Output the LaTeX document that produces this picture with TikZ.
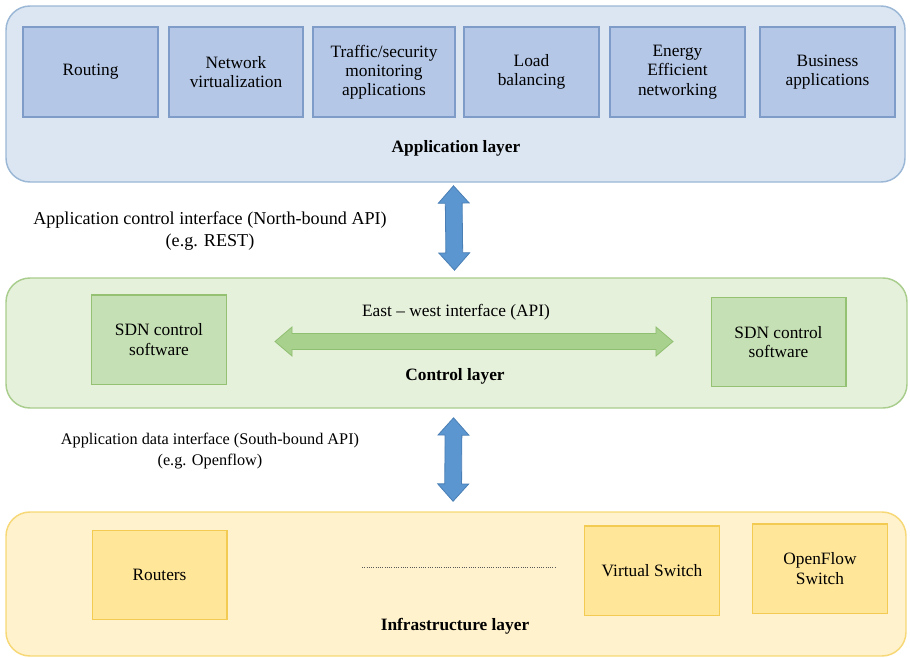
\documentclass[tikz,border=0pt]{standalone}
\usepackage{fontspec}
\setmainfont{Liberation Serif}
\usetikzlibrary{calc}

% colours of the three layers
\definecolor{appbg}{HTML}{DCE6F3}
\definecolor{appline}{HTML}{9BB7D6}
\definecolor{appfill}{HTML}{B4C7E7}
\definecolor{appbord}{HTML}{7F9CC8}
\definecolor{ctlbg}{HTML}{E6F1DC}
\definecolor{ctlline}{HTML}{A9CD8C}
\definecolor{ctlfill}{HTML}{C5E0B4}
\definecolor{ctlbord}{HTML}{94C272}
\definecolor{infbg}{HTML}{FFF2CC}
\definecolor{infline}{HTML}{F7D877}
\definecolor{inffill}{HTML}{FFE699}
\definecolor{infbord}{HTML}{F4CB52}
\definecolor{apiblue}{HTML}{5B96D0}
\definecolor{apibord}{HTML}{4A7FB5}
\definecolor{ewfill}{HTML}{A9D18E}
\definecolor{ewbord}{HTML}{8FBF70}

% thick outlined double-headed arrow between two points:
% #1,#2 tips, #3 shaft half width, #4 head half width, #5 head length, #6 style
\newcommand\fatarrow[6]{%
  \path ($(#1)!#5!(#2)$) coordinate (#1-hb) ($(#2)!#5!(#1)$) coordinate (#2-hb);
  \filldraw[#6] (#1) -- ($(#1-hb)!#4!90:(#2)$) -- ($(#1-hb)!#3!90:(#2)$)
    -- ($(#2-hb)!#3!-90:(#1)$) -- ($(#2-hb)!#4!-90:(#1)$) -- (#2)
    -- ($(#2-hb)!#4!90:(#1)$) -- ($(#2-hb)!#3!90:(#1)$)
    -- ($(#1-hb)!#3!-90:(#2)$) -- ($(#1-hb)!#4!-90:(#2)$) -- cycle;}

\tikzset{
  every node/.style={font=\fontsize{13}{14.4}\selectfont, align=center, inner sep=0pt},
  layer/.style={rounded corners=18pt, line width=1.1pt},
  applayer/.style={layer, draw=appline, fill=appbg},
  ctllayer/.style={layer, draw=ctlline, fill=ctlbg},
  inflayer/.style={layer, draw=infline, fill=infbg},
  appbox/.style={draw=appbord, fill=appfill, line width=1pt, minimum height=67.5pt},
  ctlbox/.style={draw=ctlbord, fill=ctlfill, line width=1pt, minimum width=101pt, minimum height=67pt},
  infbox/.style={draw=infbord, fill=inffill, line width=1pt, minimum width=101pt, minimum height=67pt},
  layertitle/.style={font=\fontsize{13}{14.4}\selectfont\bfseries},
  apinote/.style={font=\fontsize{#1}{16.2}\selectfont},
  vapi/.style={fill=apiblue, draw=apibord, line width=0.6pt, line join=miter},
  ewapi/.style={fill=ewfill, draw=ewbord, line width=0.6pt, line join=miter},
}

\begin{document}
\begin{tikzpicture}[x=0.75pt, y=-0.75pt]
\useasboundingbox (0,0) rectangle (910,657);

% ---------- application layer ----------
\node[applayer, minimum width=674.25pt, minimum height=132pt] (app) at (455.5,94) {};
\node[appbox, minimum width=101.25pt] (routing) at (90.5,72)  {Routing};
\node[appbox, minimum width=100.5pt]  (netvirt) at (236,72)   {Network\\virtualization};
\node[appbox, minimum width=106.5pt]  (traffic) at (384,72)   {Traffic/security\\monitoring\\applications};
\node[appbox, minimum width=101.25pt] (loadbal) at (531.5,72) {Load\\balancing};
\node[appbox, minimum width=101.25pt] (energy)  at (677.5,72) {Energy\\Efficient\\networking};
\node[appbox, minimum width=101.25pt] (business) at (827.5,72) {Business\\applications};
\node[layertitle] (apptitle) at (456,148) {Application layer};

% ---------- control layer ----------
\node[ctllayer, minimum width=675.75pt, minimum height=97.5pt] (ctl) at (456.5,343) {};
\node[ctlbox] (sdnl) at (159,339.5) {SDN control\\software};
\node[ctlbox] (sdnr) at (778.5,342) {SDN control\\software};
\node (ewlabel) at (456,312) {East -- west interface (API)};
\node[layertitle] (ctltitle) at (455,376) {Control layer};

% ---------- infrastructure layer ----------
\node[inflayer, minimum width=675pt, minimum height=108pt] (inf) at (456,584) {};
\node[infbox] (routers) at (159.5,575) {Routers};
\node[infbox] (vswitch) at (652,570.5) {Virtual Switch};
\node[infbox] (ofswitch) at (820,568.5) {OpenFlow\\Switch};
\node[layertitle] (inftitle) at (455,626) {Infrastructure layer};
\coordinate (dotl) at (362,567);
\coordinate (dotr) at (556,567);
\draw[densely dotted, line width=0.7pt, draw=black!65] (dotl) -- (dotr);

% ---------- interfaces between the layers ----------
\node[apinote=13.6] (nbapi) at (210,231) {Application control interface (North-bound API)\\(e.g. REST)};
\node[apinote=12.2] (sbapi) at (210,451) {Application data interface (South-bound API)\\(e.g. Openflow)};

\coordinate (nbtop) at ([xshift=-1.5pt, yshift=-2.3pt]app.south);
\coordinate (nbbot) at ([xshift=-1.5pt, yshift=5.3pt]ctl.north);
\fatarrow{nbtop}{nbbot}{6.3pt}{11.6pt}{13pt}{vapi}

\coordinate (sbtop) at ([xshift=-2.2pt, yshift=-6.8pt]ctl.south);
\coordinate (sbbot) at ([xshift=-2.2pt, yshift=7.5pt]inf.north);
\fatarrow{sbtop}{sbbot}{6.3pt}{11.6pt}{13pt}{vapi}

\coordinate (ewl) at (275,341.5);
\coordinate (ewr) at (673,341.5);
\fatarrow{ewl}{ewr}{6pt}{10.9pt}{12.8pt}{ewapi}
\end{tikzpicture}
\end{document}
